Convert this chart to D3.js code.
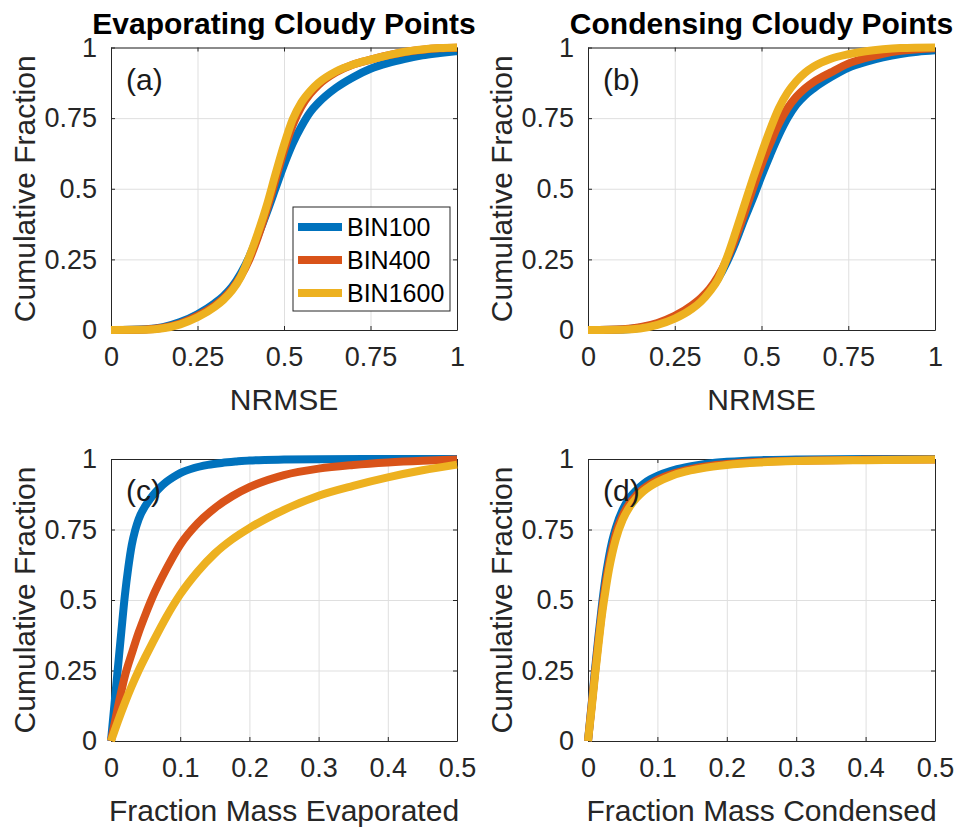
<!DOCTYPE html>
<html>
<head>
<meta charset="utf-8">
<script src="https://cdn.jsdelivr.net/npm/d3@7"></script>
<style>
  body { margin: 0; background: #fff; }
  svg { display: block; font-family: "Liberation Sans", Arial, Helvetica, sans-serif; }
</style>
</head>
<body>
<svg id="fig" width="962" height="831"></svg>
<script>
// series names + matlab default colours
const seriesNames = ["BIN100", "BIN400", "BIN1600"];
const seriesColors = ["#0072BD", "#D95319", "#EDB120"];

const nrmseTicks = [0, 0.25, 0.5, 0.75, 1];
const massTicks = [0, 0.1, 0.2, 0.3, 0.4, 0.5];
const fracTicks = [0, 0.25, 0.5, 0.75, 1];

// (a) evaporating, NRMSE  -- [x, cumulative fraction]
const evapNrmse100 = [[0,0],[0.1,0.003],[0.15,0.01],[0.2,0.028],[0.25,0.056],[0.3,0.095],[0.325,0.12],[0.35,0.153],[0.375,0.2],[0.4,0.26],[0.425,0.335],[0.45,0.415],[0.475,0.5],[0.5,0.585],[0.525,0.66],[0.55,0.72],[0.575,0.77],[0.6,0.805],[0.65,0.857],[0.7,0.895],[0.75,0.925],[0.8,0.945],[0.85,0.96],[0.9,0.972],[0.95,0.98],[1,0.987]];
const evapNrmse400 = [[0,0],[0.1,0.002],[0.15,0.008],[0.2,0.023],[0.25,0.05],[0.3,0.087],[0.325,0.112],[0.35,0.145],[0.375,0.19],[0.4,0.25],[0.425,0.33],[0.45,0.425],[0.475,0.53],[0.5,0.635],[0.525,0.725],[0.55,0.79],[0.575,0.835],[0.6,0.868],[0.65,0.912],[0.7,0.94],[0.75,0.957],[0.8,0.972],[0.85,0.984],[0.9,0.992],[0.95,0.997],[1,0.999]];
const evapNrmse1600 = [[0,0],[0.1,0.001],[0.15,0.006],[0.2,0.02],[0.25,0.045],[0.3,0.082],[0.325,0.107],[0.35,0.14],[0.375,0.188],[0.4,0.26],[0.425,0.345],[0.45,0.44],[0.475,0.55],[0.5,0.655],[0.525,0.745],[0.55,0.805],[0.575,0.845],[0.6,0.875],[0.65,0.915],[0.7,0.94],[0.75,0.957],[0.8,0.972],[0.85,0.985],[0.9,0.993],[0.95,0.998],[1,1]];

// (b) condensing, NRMSE
const condNrmse100 = [[0,0],[0.1,0.002],[0.15,0.008],[0.2,0.022],[0.25,0.046],[0.3,0.083],[0.325,0.108],[0.35,0.14],[0.375,0.183],[0.4,0.24],[0.425,0.31],[0.45,0.39],[0.475,0.465],[0.5,0.545],[0.525,0.62],[0.55,0.69],[0.575,0.75],[0.6,0.797],[0.625,0.83],[0.65,0.855],[0.7,0.895],[0.75,0.928],[0.8,0.949],[0.85,0.965],[0.9,0.977],[0.95,0.985],[1,0.99]];
const condNrmse400 = [[0,0],[0.1,0.003],[0.15,0.01],[0.2,0.025],[0.25,0.05],[0.3,0.088],[0.325,0.113],[0.35,0.145],[0.375,0.19],[0.4,0.25],[0.425,0.325],[0.45,0.41],[0.475,0.5],[0.5,0.585],[0.525,0.66],[0.55,0.73],[0.575,0.785],[0.6,0.825],[0.625,0.855],[0.65,0.878],[0.7,0.912],[0.75,0.943],[0.8,0.963],[0.85,0.978],[0.9,0.988],[0.95,0.994],[1,0.997]];
const condNrmse1600 = [[0,0],[0.1,0.001],[0.15,0.005],[0.2,0.018],[0.25,0.04],[0.3,0.075],[0.325,0.1],[0.35,0.135],[0.375,0.18],[0.4,0.255],[0.425,0.345],[0.45,0.44],[0.475,0.535],[0.5,0.625],[0.525,0.71],[0.55,0.785],[0.575,0.84],[0.6,0.88],[0.625,0.91],[0.65,0.932],[0.7,0.96],[0.75,0.976],[0.8,0.987],[0.85,0.994],[0.9,0.998],[1,1]];

// (c) fraction mass evaporated
const evapMass100 = [[0,0],[0.005,0.13],[0.01,0.26],[0.015,0.39],[0.02,0.515],[0.025,0.615],[0.03,0.695],[0.035,0.748],[0.04,0.787],[0.05,0.835],[0.06,0.87],[0.07,0.897],[0.08,0.919],[0.09,0.936],[0.1,0.95],[0.12,0.968],[0.14,0.979],[0.16,0.986],[0.18,0.991],[0.2,0.995],[0.25,0.998],[0.3,0.999],[0.4,1],[0.5,1]];
const evapMass400 = [[0,0],[0.01,0.12],[0.02,0.23],[0.03,0.31],[0.04,0.385],[0.05,0.45],[0.06,0.51],[0.08,0.61],[0.1,0.696],[0.125,0.771],[0.15,0.826],[0.175,0.868],[0.2,0.9],[0.25,0.943],[0.3,0.966],[0.35,0.979],[0.4,0.988],[0.45,0.994],[0.5,0.998]];
const evapMass1600 = [[0,0],[0.01,0.07],[0.02,0.135],[0.03,0.195],[0.04,0.25],[0.05,0.3],[0.06,0.348],[0.08,0.44],[0.1,0.52],[0.125,0.6],[0.15,0.665],[0.175,0.715],[0.2,0.755],[0.25,0.82],[0.3,0.87],[0.35,0.905],[0.4,0.935],[0.45,0.96],[0.5,0.98]];

// (d) fraction mass condensed
const condMass100 = [[0,0],[0.005,0.125],[0.01,0.25],[0.015,0.37],[0.02,0.48],[0.025,0.575],[0.03,0.65],[0.035,0.71],[0.04,0.755],[0.05,0.82],[0.06,0.862],[0.07,0.89],[0.08,0.912],[0.09,0.928],[0.1,0.94],[0.12,0.958],[0.14,0.97],[0.16,0.979],[0.18,0.986],[0.2,0.99],[0.25,0.996],[0.3,0.998],[0.4,1],[0.5,1]];
const condMass400 = [[0,0],[0.005,0.12],[0.01,0.24],[0.015,0.355],[0.02,0.46],[0.025,0.55],[0.03,0.625],[0.035,0.685],[0.04,0.735],[0.05,0.8],[0.06,0.843],[0.07,0.872],[0.08,0.895],[0.09,0.912],[0.1,0.926],[0.12,0.946],[0.14,0.96],[0.16,0.97],[0.18,0.977],[0.2,0.982],[0.25,0.99],[0.3,0.994],[0.4,0.997],[0.5,0.998]];
const condMass1600 = [[0,0],[0.005,0.11],[0.01,0.23],[0.015,0.34],[0.02,0.445],[0.025,0.53],[0.03,0.605],[0.035,0.665],[0.04,0.715],[0.05,0.785],[0.06,0.83],[0.07,0.862],[0.08,0.886],[0.09,0.904],[0.1,0.918],[0.12,0.94],[0.14,0.955],[0.16,0.965],[0.18,0.973],[0.2,0.979],[0.25,0.988],[0.3,0.993],[0.4,0.996],[0.5,0.998]];

const svg = d3.select("#fig");
svg.append("rect").attr("width", 962).attr("height", 831).attr("fill", "#fff");

const boxColor = "#262626";
const gridColor = "#dfdfdf";

// one entry per subplot, positions in px
const panels = [
  {left: 111, top: 47.5, w: 346, h: 282.5, xMax: 1, xt: nrmseTicks, series: [evapNrmse100, evapNrmse400, evapNrmse1600],
   tag: "(a)", title: "Evaporating Cloudy Points", xlabel: "NRMSE", legend: true},
  {left: 588, top: 47.5, w: 347, h: 282.5, xMax: 1, xt: nrmseTicks, series: [condNrmse100, condNrmse400, condNrmse1600],
   tag: "(b)", title: "Condensing Cloudy Points", xlabel: "NRMSE"},
  {left: 111, top: 459, w: 346, h: 282, xMax: 0.5, xt: massTicks, series: [evapMass100, evapMass400, evapMass1600],
   tag: "(c)", xlabel: "Fraction Mass Evaporated"},
  {left: 588, top: 459, w: 347, h: 282, xMax: 0.5, xt: massTicks, series: [condMass100, condMass400, condMass1600],
   tag: "(d)", xlabel: "Fraction Mass Condensed"}
];

function drawPanel(p) {
  const g = svg.append("g").attr("transform", `translate(${p.left},${p.top})`);
  const x = d3.scaleLinear().domain([0, p.xMax]).range([0, p.w]);
  const y = d3.scaleLinear().domain([0, 1]).range([p.h, 0]);

  // grid
  g.append("g").attr("transform", `translate(0,${p.h})`)
    .call(d3.axisBottom(x).tickValues(p.xt).tickSize(-p.h).tickFormat(""))
    .call(s => s.select(".domain").remove())
    .call(s => s.selectAll("line").attr("stroke", gridColor));
  g.append("g")
    .call(d3.axisLeft(y).tickValues(fracTicks).tickSize(-p.w).tickFormat(""))
    .call(s => s.select(".domain").remove())
    .call(s => s.selectAll("line").attr("stroke", gridColor));

  // box + inward ticks on all sides
  const fmt = d => String(d);
  const styleAxis = s => {
    s.select(".domain").attr("stroke", boxColor);
    s.selectAll(".tick line").attr("stroke", boxColor);
    s.selectAll("text").attr("fill", boxColor).attr("font-size", 27)
      .attr("font-family", "Liberation Sans, Arial, sans-serif");
  };
  g.append("g").attr("transform", `translate(0,${p.h})`)
    .call(d3.axisBottom(x).tickValues(p.xt).tickSizeInner(-4).tickSizeOuter(0).tickPadding(17).tickFormat(fmt))
    .call(styleAxis);
  g.append("g")
    .call(d3.axisTop(x).tickValues(p.xt).tickSizeInner(-4).tickSizeOuter(0).tickFormat(""))
    .call(styleAxis);
  g.append("g")
    .call(d3.axisLeft(y).tickValues(fracTicks).tickSizeInner(-4).tickSizeOuter(0).tickPadding(14).tickFormat(fmt))
    .call(styleAxis);
  g.append("g").attr("transform", `translate(${p.w},0)`)
    .call(d3.axisRight(y).tickValues(fracTicks).tickSizeInner(-4).tickSizeOuter(0).tickFormat(""))
    .call(styleAxis);

  // curves, drawn over the box like matlab does
  const line = d3.line().x(d => x(d[0])).y(d => y(d[1])).curve(d3.curveMonotoneX);
  p.series.forEach((s, i) => {
    g.append("path").datum(s)
      .attr("d", line)
      .attr("fill", "none")
      .attr("stroke", seriesColors[i])
      .attr("stroke-width", 8)
      .attr("stroke-linejoin", "round");
  });

  // panel tag
  g.append("text").attr("x", 15).attr("y", 42)
    .attr("font-size", 30).attr("fill", "#1a1a1a").text(p.tag);

  // labels
  g.append("text").attr("x", p.w / 2).attr("y", p.h + 80)
    .attr("text-anchor", "middle").attr("font-size", 30).attr("fill", boxColor)
    .text(p.xlabel);
  g.append("text")
    .attr("transform", `translate(-76,${p.h / 2}) rotate(-90)`)
    .attr("text-anchor", "middle").attr("font-size", 30).attr("fill", boxColor)
    .text("Cumulative Fraction");
  if (p.title) {
    g.append("text").attr("x", p.w / 2).attr("y", -14)
      .attr("text-anchor", "middle").attr("font-size", 30).attr("font-weight", "bold")
      .attr("fill", "#000").text(p.title);
  }

  if (p.legend) {
    const lw = 157, lh = 104;
    const lg = g.append("g").attr("transform", `translate(${p.w - lw - 7},${p.h - lh - 19})`);
    lg.append("rect").attr("width", lw).attr("height", lh)
      .attr("fill", "#fff").attr("stroke", boxColor).attr("stroke-width", 1);
    seriesNames.forEach((name, i) => {
      const yy = 20 + i * 33;
      lg.append("line").attr("x1", 5).attr("x2", 49).attr("y1", yy).attr("y2", yy)
        .attr("stroke", seriesColors[i]).attr("stroke-width", 8);
      lg.append("text").attr("x", 54).attr("y", yy).attr("dy", "0.35em")
        .attr("font-size", 25).attr("fill", "#000").text(name);
    });
  }
}

panels.forEach(drawPanel);
</script>
</body>
</html>
